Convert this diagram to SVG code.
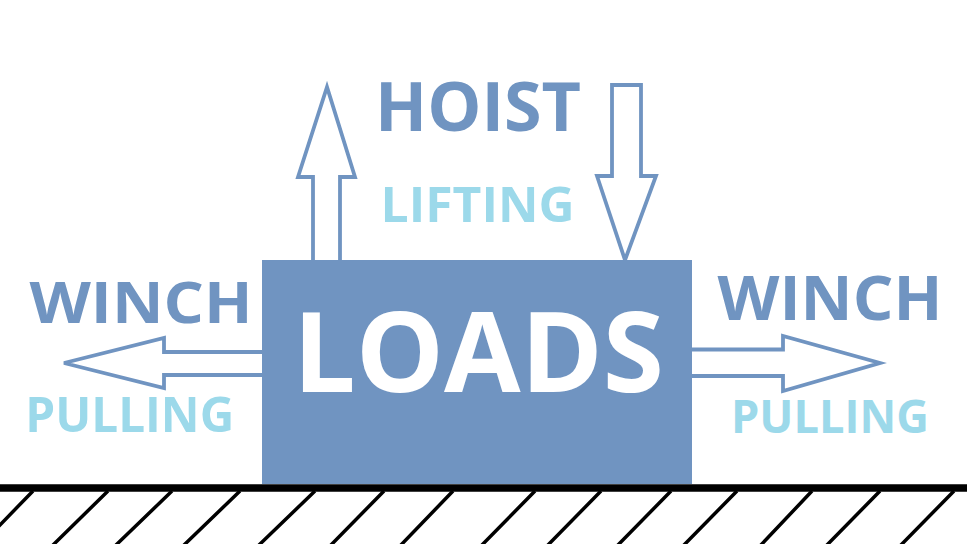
<svg xmlns="http://www.w3.org/2000/svg" width="967" height="544" viewBox="0 0 967 544">
<style>
.arrow{fill:#fff;stroke:#7094c1;stroke-width:3.8;stroke-linejoin:miter}
.dk{fill:#7094c1;font-family:"Open Sans","Noto Sans",sans-serif;font-weight:bold;text-anchor:middle}
.lt{fill:#9cd9ea;font-family:"Open Sans","Noto Sans",sans-serif;font-weight:bold;text-anchor:middle}
.hatch{stroke:#000;stroke-width:3.5}
</style>
<rect width="967" height="544" fill="#fff"/>
<g id="connectors">
<polygon class="arrow" points="313,262 313,177 298,177 327,87 355,177 340,177 340,262"/>
<polygon class="arrow" points="612,85 641,85 641,176 656,176 625,260 597,176 612,176"/>
<polygon class="arrow" points="264,352 164,352 164,338 64,363 164,388 164,375 264,375"/>
<polygon class="arrow" points="690,349.5 783,349.5 783,336 880,363 783,391 783,376 690,376"/>
</g>
<g id="loads">
<rect x="262" y="260" width="430" height="224" fill="#7094c1"/>
<text x="478.5" y="391.7" font-size="112" fill="#fff" font-family="Open Sans,Noto Sans,sans-serif" font-weight="bold" text-anchor="middle" textLength="371" lengthAdjust="spacingAndGlyphs">LOADS</text>
</g>
<g id="hoist">
<text class="dk" x="478" y="131" font-size="68.6" textLength="206" lengthAdjust="spacingAndGlyphs">HOIST</text>
<text class="lt" x="477.5" y="221.7" font-size="49" textLength="194" lengthAdjust="spacingAndGlyphs">LIFTING</text>
</g>
<g id="winch-left">
<text class="dk" x="141" y="323.3" font-size="58" textLength="223" lengthAdjust="spacingAndGlyphs">WINCH</text>
<text class="lt" x="129.7" y="431.7" font-size="49" textLength="209" lengthAdjust="spacingAndGlyphs">PULLING</text>
</g>
<g id="winch-right">
<text class="dk" x="830" y="320" font-size="60" textLength="225" lengthAdjust="spacingAndGlyphs">WINCH</text>
<text class="lt" x="830" y="433.3" font-size="47" textLength="198" lengthAdjust="spacingAndGlyphs">PULLING</text>
</g>
<g id="ground">
<line x1="0" y1="488" x2="967" y2="488" stroke="#000" stroke-width="7.5"/>
<path class="hatch" d="M33,491 L-3,528 M108,491 L52,546 M172,491 L115,546 M240,491 L183,546 M315,491 L258,546 M384,491 L330,546 M453,491 L400,546 M535,491 L481,546 M601,491 L547,546 M671,491 L617,546 M737,491 L683,546 M812,491 L760,546 M880,491 L826,546 M954,491 L900,546"/>
</g>
</svg>
